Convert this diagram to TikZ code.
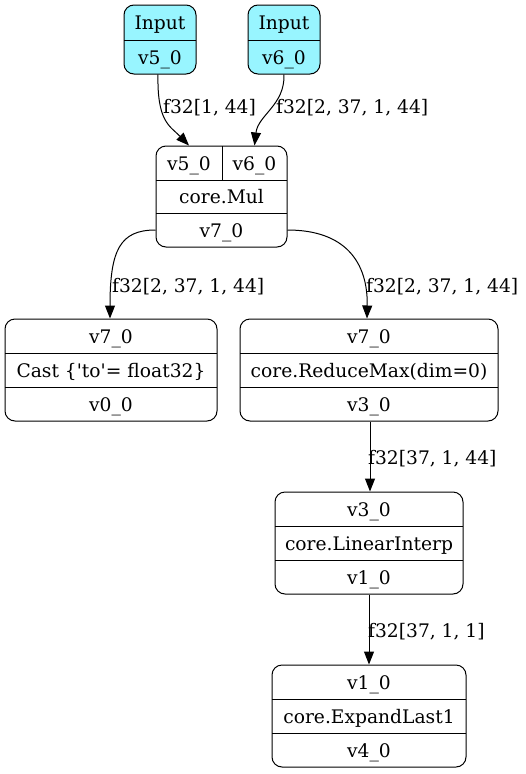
\documentclass[tikz,border=0pt]{standalone}
\usepackage{fontspec}
\setmainfont{DejaVu Serif}
\usetikzlibrary{arrows.meta}
\definecolor{inputcyan}{HTML}{98F5FF}

\tikzset{
  rec/.style={draw, rounded corners=10pt, line width=1pt, inner sep=0pt},
  inrec/.style={rec, fill=inputcyan},
  sep/.style={line width=1pt},
  txt/.style={inner sep=0pt, anchor=base, font=\fontsize{18.67}{22}\selectfont},
  lbl/.style={txt, anchor=base west},
  edge/.style={line width=1pt, -{Triangle[length=13pt,width=10pt]}},
}

\begin{document}
\begin{tikzpicture}[x=1pt,y=-1pt]
        \useasboundingbox (0,0) rectangle (525,774);

        % inputs
        \node[inrec, minimum width=72pt, minimum height=69pt] (in5) at (160,39.5) {};
        \draw[sep] (124,40) -- (196,40);
        \node[txt] (in5a) at (160,29.5) {Input};
        \node[txt] (in5b) at (160,64) {v5\_0};

        \node[inrec, minimum width=72pt, minimum height=69pt] (in6) at (284,39.5) {};
        \draw[sep] (248,40) -- (320,40);
        \node[txt] (in6a) at (284,29.5) {Input};
        \node[txt] (in6b) at (284,64) {v6\_0};

        % mul
        \node[rec, minimum width=131pt, minimum height=101pt] (mul) at (221.5,196.5) {};
        \draw[sep] (156,180) -- (287,180);
        \draw[sep] (156,213) -- (287,213);
        \draw[sep] (222,146) -- (222,180);
        \node[txt] (mula) at (189,170) {v5\_0};
        \node[txt] (mulb) at (254.5,170) {v6\_0};
        \node[txt] (mulc) at (221.5,203.5) {core.Mul};
        \node[txt] (muld) at (221.5,237) {v7\_0};

        % cast
        \node[rec, minimum width=212pt, minimum height=102pt] (cast) at (111,370) {};
        \draw[sep] (5,353) -- (217,353);
        \draw[sep] (5,387) -- (217,387);
        \node[txt] (casta) at (111,343) {v7\_0};
        \node[txt] (castb) at (111,377) {Cast \{\textquotesingle to\textquotesingle= float32\}};
        \node[txt] (castc) at (111,411) {v0\_0};

        % reduce max
        \node[rec, minimum width=258pt, minimum height=102pt] (rmax) at (369,370) {};
        \draw[sep] (240,353) -- (498,353);
        \draw[sep] (240,387) -- (498,387);
        \node[txt] (rmaxa) at (369,343) {v7\_0};
        \node[txt] (rmaxb) at (369,377) {core.ReduceMax(dim=0)};
        \node[txt] (rmaxc) at (369,411) {v3\_0};

        % linear interp
        \node[rec, minimum width=188pt, minimum height=102pt] (lerp) at (369,543) {};
        \draw[sep] (275,526) -- (463,526);
        \draw[sep] (275,560) -- (463,560);
        \node[txt] (lerpa) at (369,516) {v3\_0};
        \node[txt] (lerpb) at (369,550) {core.LinearInterp};
        \node[txt] (lerpc) at (369,584) {v1\_0};

        % expand last
        \node[rec, minimum width=194pt, minimum height=102pt] (expd) at (369,716) {};
        \draw[sep] (272,699) -- (466,699);
        \draw[sep] (272,733) -- (466,733);
        \node[txt] (expda) at (369,689) {v1\_0};
        \node[txt] (expdb) at (369,723) {core.ExpandLast1};
        \node[txt] (expdc) at (369,757) {v4\_0};

        % edges
        \draw[edge] ([xshift=-2pt]in5.south) .. controls (157,122) and (170,126) .. ([xshift=-32.5pt]mul.north);
        \draw[edge] (in6.south) .. controls (285,105) and (258,115) .. ([xshift=33pt]mul.north);
        \draw[edge] ([yshift=-33.5pt]mul.west) .. controls (120,230) and (110,250) .. ([xshift=-1pt]cast.north);
        \draw[edge] ([yshift=-33.5pt]mul.east) .. controls (345,230) and (368,262) .. ([xshift=-2pt]rmax.north);
        \draw[edge] ([xshift=1pt]rmax.south) -- ([xshift=1pt]lerp.north);
        \draw[edge] (lerp.south) -- (expd.north);

        % edge labels
        \node[lbl] (l1) at (163,113) {f32[1, 44]};
        \node[lbl] (l2) at (276,113) {f32[2, 37, 1, 44]};
        \node[lbl] (l3) at (112,292) {f32[2, 37, 1, 44]};
        \node[lbl] (l4) at (366,292) {f32[2, 37, 1, 44]};
        \node[lbl] (l5) at (368,464) {f32[37, 1, 44]};
        \node[lbl] (l6) at (368,637) {f32[37, 1, 1]};
    \end{tikzpicture}
\end{document}
